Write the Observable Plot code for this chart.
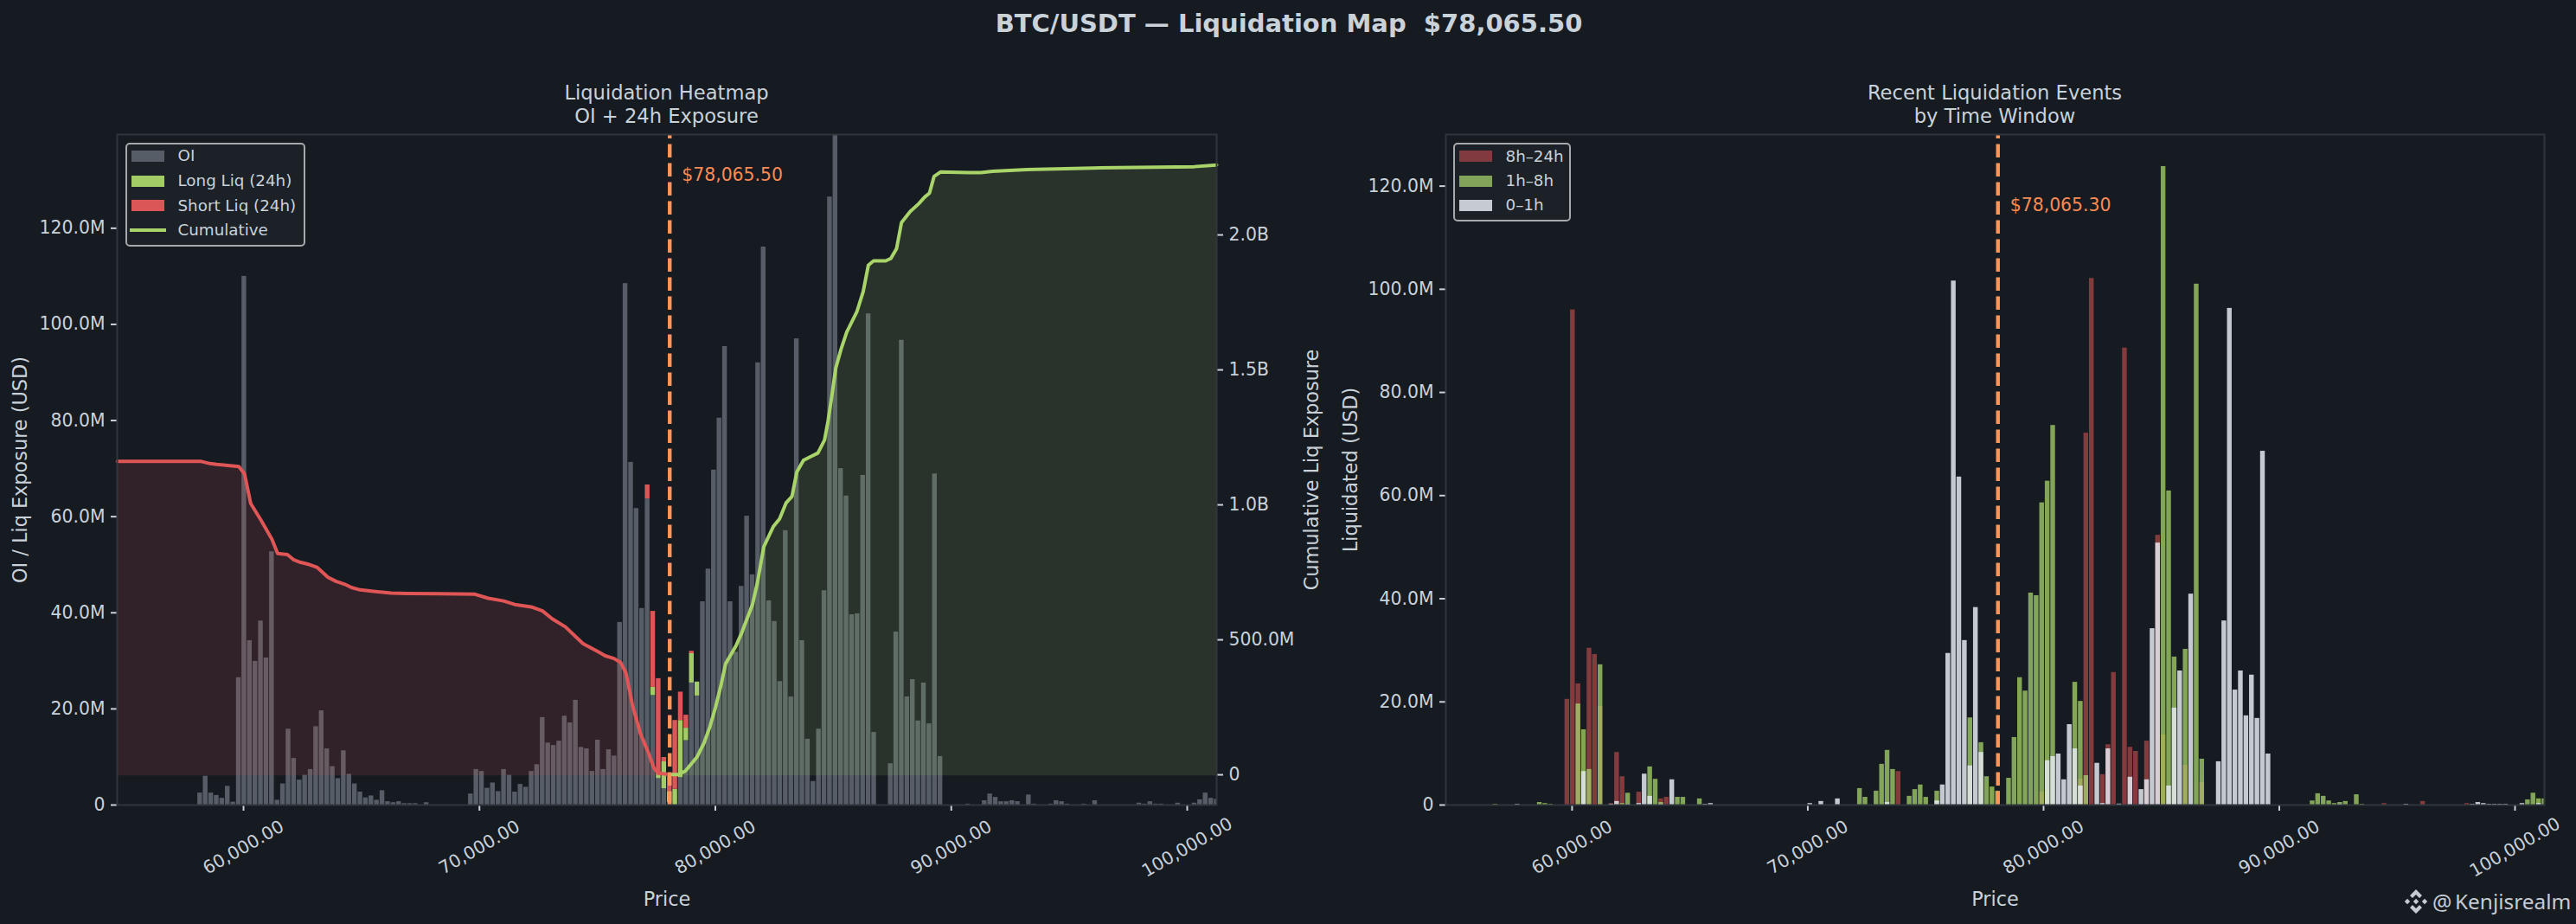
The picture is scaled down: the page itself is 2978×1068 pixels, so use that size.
<!DOCTYPE html>
<html>
<head>
<meta charset="utf-8">
<script src="https://cdn.jsdelivr.net/npm/d3@7"></script>
<script src="https://cdn.jsdelivr.net/npm/@observablehq/plot@0.6"></script>
<style>
  html, body { margin: 0; padding: 0; background: #161b22; }
  #page { position: relative; width: 2978px; height: 1068px; background: #161b22; overflow: hidden;
          font-family: "DejaVu Sans", sans-serif; color: #c9d1d9; }
  #page svg.plot-layer { position: absolute; top: 0; max-width: none; background: transparent; }
  .ttl { position: absolute; text-align: center; white-space: pre; transform: translateX(-50%); }
  .legend { position: absolute; box-sizing: border-box; background: #1c2128; border: 2px solid #a6a9ad; border-radius: 5px; }
  .legend .row { position: absolute; left: 0; right: 0; height: 0; }
  .legend .sw { position: absolute; width: 38px; height: 13px; top: -6.5px; }
  .legend .ln { position: absolute; width: 42px; height: 4px; top: -2px; }
  .legend .tx { position: absolute; font-size: 18.3px; line-height: 18px; top: -9px; white-space: pre; color: #c9d1d9; }
  #wm { position: absolute; left: 2779px; top: 1027px; width: 196px; height: 30px; color: #c5cad3; }
  #wm span { position: absolute; font-family: "Noto Sans", sans-serif; line-height: 30px; white-space: pre; }
</style>
</head>
<body>
<div id="page"></div>
<script>
// Price axis (USD)
const priceLo = 54646, priceHi = 101247, binCount = 200;
const priceTicks = [60000, 70000, 80000, 90000, 100000];
const spot = 78065.5, spotRecent = 78065.3;
const spotLabel = "$78,065.50", spotRecentLabel = "$78,065.30";

// Left panel, [bin, USD millions]
const oiBins = [[15,2.5],[16,6],[17,2.5],[18,2],[19,1.4],[20,3.9],[21,.6],[22,26.5],[23,110],[24,34.2],[25,29.9],[26,38.3],[27,30.6],[28,52.7],[29,1],
[30,4.4],[31,15.8],[32,9.7],[33,5.2],[34,6.2],[35,7.4],[36,16.3],[37,19.6],[38,11.7],[39,8],[40,5.5],[41,11.3],[42,6.4],[43,4.4],[44,2.7],[45,1.5],[46,1.9],[47,1],[48,3],[49,.7],[50,.5],[51,.7],[52,.3],[53,.3],[54,.3],[56,.5],
[64,2.3],[65,7.4],[66,7],[67,3.5],[68,4.6],[69,2.8],[70,7.4],[71,6.2],[72,2.7],[73,4.3],[74,3.7],[75,7],[76,8.4],[77,18.2],[78,12.9],[79,12.4],[80,13.3],[81,18.5],[82,17.1],[83,21.8],[84,12],[85,11.7],[86,7],[87,13.5],[88,7.4],[89,11.5],[90,10.2],
[91,38],[92,108.5],[93,71.3],[94,61.7],[95,40.9],[96,63.7],[97,22.8],[98,5.5],[99,3.4],[100,.5],[102,5.7],[103,13.4],[104,25.4],[105,22.7],[106,42.3],[107,49.1],[108,69.7],[109,80.5],[110,95.4],[111,42.3],[112,31.8],[113,45.5],[114,60.1],[115,47.9],[116,92],[117,116.1],[118,42.5],[119,38.2],[120,25.7],[121,57.1],[122,22.5],[123,97],[124,34.2],[125,13.7],[126,4.9],[127,15.8],[128,44.6],[129,126.5],[130,145],[131,70],[132,64.3],[133,39.6],[134,39.8],[135,68.6],[136,102.2],[137,15.1],
[140,8.6],[141,36],[142,96.7],[143,22.5],[144,26.1],[145,17.5],[146,25.4],[147,16.9],[148,68.9],[149,10.1],
[154,.2],[157,.9],[158,2.3],[159,1.6],[160,.7],[161,.7],[162,.9],[163,.7],[165,2.1],[166,.2],[169,.2],[170,.9],[171,.7],[172,.2],[175,.2],[177,.9],[185,.4],[186,.2],[187,.7],[188,.2],[189,.2],[192,.4],[195,.4],[196,1.1],[197,2.5],[198,1.4],[199,1.2]];
const longBins = [[97,1.7],[98,1.1],[99,5.6],[100,2.2],[101,3.3],[102,11.9],[103,2.6],[104,6.1],[105,2.9]];
const shortBins = [[96,2.9],[97,15.8],[98,19.7],[99,.9],[100,3.9],[101,14.3],[102,5.9],[103,2.7],[104,.5]];

// Cumulative exposure, [price, USD millions]
const cumShort = [[54654,1161],[58209,1161],[58583,1153],[58864,1150],[59332,1146],[59799,1142],[60042,1115],[60305,1005],[60735,944],[61203,873],[61446,820],[61858,816],[62138,796],[62419,787],[62793,779],[63130,768],[63579,732],[63916,717],[64290,706],[64570,694],[64945,685],[65599,679],[66254,673],[66909,672],[69809,669],[70371,654],[71026,644],[71493,631],[72242,621],[72672,607],[73084,578],[73645,548],[74393,486],[75048,455],[75329,441],[75703,431],[75984,416],[76208,378],[76489,257],[76826,152],[77144,86],[77387,26],[77574,6],[78079,1]];
const cumLong = [[78053,1],[78419,1],[78725,14],[79214,65],[79519,118],[79764,177],[80008,251],[80252,337],[80436,412],[80863,476],[81108,524],[81572,631],[81780,711],[82049,844],[82452,919],[82721,948],[83002,1008],[83246,1031],[83454,1122],[83735,1165],[84041,1179],[84346,1192],[84627,1240],[84774,1309],[84957,1416],[85104,1507],[85324,1576],[85568,1640],[85996,1715],[86265,1790],[86485,1888],[86705,1904],[87218,1904],[87438,1913],[87682,1950],[87890,2046],[88257,2087],[88623,2116],[88868,2140],[89075,2155],[89271,2217],[89540,2233],[90762,2231],[91255,2231],[91744,2236],[93210,2242],[96021,2248],[100298,2253],[101247,2259]];

// Right panel, [bin, USD millions]
const window8to24 = [[22,20.5],[23,96],[24,23.5],[26,30.4],[27,29.2],[28,19.1],[30,.3],[31,10.2],[32,5.5],[35,2.5],[39,1.2],[40,1.5],[82,6.5],[108,2.5],[115,5],[116,72.1],[117,102.1],[119,5.9],[120,11.7],[121,25.7],[123,88.6],[124,11.2],[125,10.4],[127,12.4],[129,52.3],[130,13.6],[134,7.7],[137,4.4],[170,.3],[177,.7],[185,.3]];
const window1to8 = [[9,.15],[17,.5],[18,.3],[19,.15],[24,19.6],[25,14.6],[26,6.9],[28,27.2],[32,.3],[33,2.3],[37,7.4],[38,5],[39,.5],[42,1.5],[43,1.5],[46,1.2],[75,3.2],[76,1.5],[78,2.7],[79,7.9],[80,10.6],[81,6.9],[84,1.7],[85,3],[86,3.9],[87,1.5],[89,2.7],[95,16.9],[97,12.1],[98,5.5],[99,3.5],[100,2.7],[102,5.2],[103,13.1],[104,24.7],[105,22.1],[106,41.1],[107,40.6],[108,58.6],[109,62.8],[110,73.6],[114,23.8],[115,20.1],[116,5.7],[130,123.8],[131,60.9],[132,28.7],[134,30.2],[136,101],[137,8.9],[157,.8],[158,2.2],[159,1.7],[160,.8],[161,.3],[162,.5],[163,.7],[165,2],[166,.15],[196,1],[197,2.3],[198,1.2],[199,1.2]];
const window0to1 = [[13,.15],[25,6.5],[30,.15],[31,.7],[33,.15],[35,.3],[36,6],[37,1.7],[39,.15],[41,4.9],[47,.15],[48,.3],[66,.3],[68,.7],[71,1.2],[80,.5],[89,.8],[90,3.9],[91,29.4],[92,101.6],[93,63.6],[94,31.9],[95,7.6],[96,38.3],[97,10.2],[109,8.6],[110,9.4],[111,9.9],[112,4.9],[113,15.6],[114,10.9],[115,3.7],[118,8.1],[119,.3],[120,10.9],[122,.2],[124,5.4],[126,3],[127,4.9],[128,34.2],[129,50.8],[131,3.7],[132,18.8],[133,26],[135,40.9],[140,8.4],[141,35.7],[142,96.3],[143,22.3],[144,26],[145,17.3],[146,25.2],[147,16.8],[148,68.6],[149,9.9],[162,.15],[174,.15],[186,.15],[187,.5],[188,.3],[189,.15],[190,.15],[191,.15],[192,.15],[195,.3],[198,.3]];

// Axis ticks (USD millions)
const yTicksLeft = [0,20,40,60,80,100,120];
const yTicksCum = [0,500,1000,1500,2000];
const yTicksRecent = [0,20,40,60,80,100,120];

const binStep = (priceHi - priceLo) / (binCount - 1);
const barWidth = binStep * 0.85;
const priceAt = i => priceLo + i * binStep;
const moneyFmt = v => v === 0 ? "0" : v >= 1000 ? (v/1000).toFixed(1) + "B" : v.toFixed(1) + "M";
const priceFmt = d3.format(",.2f");

const TXT = "#c9d1d9", SPINE = "#30363d", ORANGE = "#ff9558", ORANGE_TXT = "#f98a55";
const GREEN = "#a8d46a", RED = "#e05555";
const FONT = '"DejaVu Sans", sans-serif';
const W = 1489, H = 1068, bottomY = 138, topY = 155;
const page = document.getElementById("page");

function place(svg, left) {
  svg.classList.add("plot-layer");
  svg.style.left = left + "px";
  page.appendChild(svg);
}

const base = (ml, mr) => ({
  width: W, height: H, marginLeft: ml, marginRight: mr, marginTop: topY, marginBottom: bottomY,
  style: { background: "transparent", color: TXT, fontFamily: FONT, fontSize: "20.4px", overflow: "visible" }
});
const xScale = { domain: [priceLo, priceHi], axis: null };

function xAxisMarks() {
  return [
    Plot.axisX({ ticks: priceTicks, tickSize: 7, tickFormat: () => "", strokeWidth: 2, label: null }),
    Plot.text(priceTicks, { x: d => d, frameAnchor: "bottom", dy: 49, rotate: -30, text: d => priceFmt(d),
      textAnchor: "middle", lineAnchor: "middle", fontSize: 20.4, fill: TXT }),
    Plot.axisX({ ticks: [], tickSize: 0, label: "Price", labelAnchor: "center", labelArrow: "none", labelOffset: 116, fontSize: 22.4 })
  ];
}

// ---------- Left panel, stacked bars ----------
const stackMap = new Map();
const stackRows = [];
function pushStack(pairs, key) {
  for (const [i, v] of pairs) {
    const top = stackMap.get(i) || 0;
    stackRows.push({ i, y1: top, y2: top + v, key });
    stackMap.set(i, top + v);
  }
}
pushStack(oiBins, "oi"); pushStack(longBins, "long"); pushStack(shortBins, "short");
const barOf = key => stackRows.filter(d => d.key === key);
const stackMark = (key, fill) => Plot.rectY(barOf(key), {
  x1: d => priceAt(d.i) - barWidth/2, x2: d => priceAt(d.i) + barWidth/2, y1: "y1", y2: "y2", fill, clip: "frame"
});

place(Plot.plot({
  ...base(135, 83),
  x: xScale,
  y: { domain: [0, 139.5], axis: null },
  marks: [
    stackMark("oi", "#565d66"),
    stackMark("long", "#a4cc66"),
    stackMark("short", "#db5657"),
    Plot.axisY({ anchor: "left", ticks: yTicksLeft, tickFormat: moneyFmt, tickSize: 7, tickPadding: 7, strokeWidth: 2, label: null, fontSize: 20.4 }),
    Plot.axisY({ anchor: "left", ticks: [], tickSize: 0, label: "OI / Liq Exposure (USD)", labelAnchor: "center", labelArrow: "none", labelOffset: 120, fontSize: 22.4 }),
    ...xAxisMarks()
  ]
}), 0);

// Cumulative layer, second y scale, same frame
const BASELINE = -4;
place(Plot.plot({
  ...base(135, 83),
  x: xScale,
  y: { domain: [-112, 2372], axis: null },
  marks: [
    Plot.areaY(cumShort, { x: d => d[0], y1: BASELINE, y2: d => d[1], fill: RED, fillOpacity: 0.13, curve: "linear" }),
    Plot.areaY(cumLong, { x: d => d[0], y1: BASELINE, y2: d => d[1], fill: GREEN, fillOpacity: 0.13, curve: "linear" }),
    Plot.line(cumShort, { x: d => d[0], y: d => d[1], stroke: RED, strokeWidth: 4, curve: "linear" }),
    Plot.line(cumLong, { x: d => d[0], y: d => d[1], stroke: GREEN, strokeWidth: 4, curve: "linear" }),
    Plot.ruleX([spot], { y1: -112, y2: 2372, stroke: ORANGE, strokeWidth: 4.4, strokeDasharray: "15.6,6.4" }),
    Plot.text([spotLabel], { x: spot, frameAnchor: "top", dy: 47, dx: 14, text: d => d, textAnchor: "start", lineAnchor: "middle", fill: ORANGE_TXT, fontSize: 20.4 }),
    Plot.axisY({ anchor: "right", ticks: yTicksCum, tickFormat: moneyFmt, tickSize: 7, tickPadding: 7, strokeWidth: 2, label: null, fontSize: 20.4 }),
    Plot.axisY({ anchor: "right", ticks: [], tickSize: 0, label: "Cumulative Liq Exposure", labelAnchor: "center", labelArrow: "none", labelOffset: 117, fontSize: 22.4 }),
    Plot.frame({ stroke: SPINE, strokeWidth: 2 })
  ]
}), 0);

// ---------- Right panel ----------
const overlapMark = (pairs, fill, fillOpacity) => Plot.rectY(pairs, {
  x1: d => priceAt(d[0]) - barWidth/2, x2: d => priceAt(d[0]) + barWidth/2, y1: 0, y2: d => d[1], fill, fillOpacity, clip: "frame"
});
place(Plot.plot({
  ...base(182, 37),
  x: xScale,
  y: { domain: [0, 130], axis: null },
  marks: [
    overlapMark(window8to24, RED, 0.55),
    overlapMark(window1to8, GREEN, 0.75),
    overlapMark(window0to1, "#e4e9ef", 0.85),
    Plot.ruleX([spotRecent], { y1: 0, y2: 130, stroke: ORANGE, strokeWidth: 4.4, strokeDasharray: "15.6,6.4" }),
    Plot.text([spotRecentLabel], { x: spotRecent, frameAnchor: "top", dy: 82, dx: 14, text: d => d, textAnchor: "start", lineAnchor: "middle", fill: ORANGE_TXT, fontSize: 20.4 }),
    Plot.axisY({ anchor: "left", ticks: yTicksRecent, tickFormat: moneyFmt, tickSize: 7, tickPadding: 7, strokeWidth: 2, label: null, fontSize: 20.4 }),
    Plot.axisY({ anchor: "left", ticks: [], tickSize: 0, label: "Liquidated (USD)", labelAnchor: "center", labelArrow: "none", labelOffset: 118, fontSize: 22.4 }),
    ...xAxisMarks(),
    Plot.frame({ stroke: SPINE, strokeWidth: 2 })
  ]
}), W);

// ---------- Titles ----------
function title(text, cx, cy, size, weight) {
  const d = document.createElement("div");
  d.className = "ttl";
  d.textContent = text;
  d.style.left = cx + "px";
  d.style.top = (cy - size * 0.6) + "px";
  d.style.fontSize = size + "px";
  d.style.lineHeight = (size * 1.2) + "px";
  if (weight) d.style.fontWeight = weight;
  page.appendChild(d);
}
title("BTC/USDT — Liquidation Map  $78,065.50", 1490, 27, 29, "bold");
title("Liquidation Heatmap", 770.5, 108, 22.6);
title("OI + 24h Exposure", 770.5, 134.5, 22.6);
title("Recent Liquidation Events", 2306, 108, 22.6);
title("by Time Window", 2306, 134.5, 22.6);

// ---------- Legends ----------
function legend(left, top, width, height, swLeft, txLeft, rows) {
  const box = document.createElement("div");
  box.className = "legend";
  Object.assign(box.style, { left: left + "px", top: top + "px", width: width + "px", height: height + "px" });
  for (const r of rows) {
    const row = document.createElement("div");
    row.className = "row";
    row.style.top = (r.y - top - 2) + "px";
    const s = document.createElement("div");
    s.className = r.line ? "ln" : "sw";
    s.style.left = (r.line ? swLeft - left - 4 : swLeft - left - 2) + "px";
    s.style.background = r.color;
    const t = document.createElement("div");
    t.className = "tx";
    t.style.left = (txLeft - left - 2) + "px";
    t.textContent = r.label;
    row.append(s, t);
    box.appendChild(row);
  }
  page.appendChild(box);
}
legend(145, 164.5, 208, 120, 152, 205.5, [
  { y: 180, label: "OI", color: "#565d66" },
  { y: 209, label: "Long Liq (24h)", color: "#a4cc66" },
  { y: 237.5, label: "Short Liq (24h)", color: "#db5657" },
  { y: 266, label: "Cumulative", color: GREEN, line: true }
]);
legend(1680, 164.5, 136, 91.5, 1687, 1740.5, [
  { y: 180.5, label: "8h–24h", color: "#813a3f" },
  { y: 209, label: "1h–8h", color: "#83a358" },
  { y: 237, label: "0–1h", color: "#c5cad3" }
]);

// ---------- Watermark ----------
const wm = document.createElement("div");
wm.id = "wm";
wm.innerHTML = `<svg width="28" height="28" viewBox="0 0 28 28" style="position:absolute;left:0;top:1px" fill="#c5cad3">
<path d="M14 0 L21 7 L18 10 L14 6 L10 10 L7 7 Z"/><path d="M14 28 L21 21 L18 18 L14 22 L10 18 L7 21 Z"/>
<path d="M4 10.8 L7.2 14 L4 17.2 L0.8 14 Z"/><path d="M24 10.8 L27.2 14 L24 17.2 L20.8 14 Z"/><path d="M14 10.8 L17.2 14 L14 17.2 L10.8 14 Z"/></svg>
<span style="left:33px;top:0;font-size:25px">@</span><span style="left:59px;top:0;font-size:24.4px">Kenjisrealm</span>`;
page.appendChild(wm);
</script>
</body>
</html>
